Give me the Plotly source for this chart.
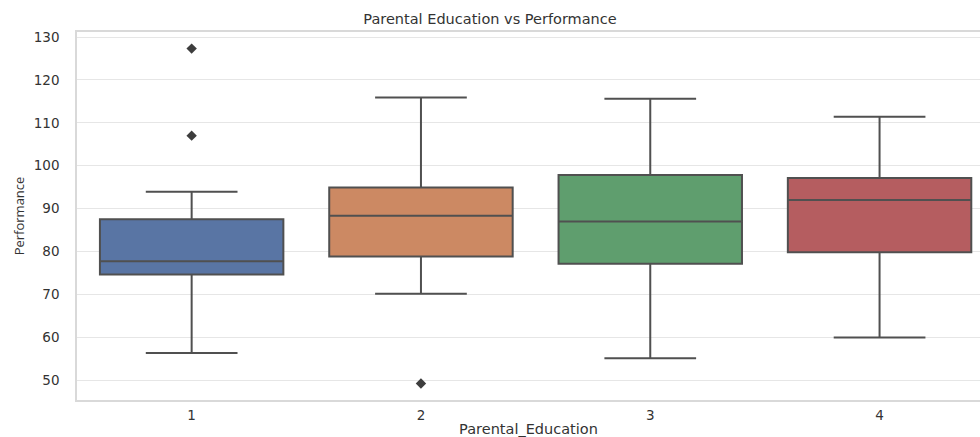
import plotly.graph_objects as go

categories = [1, 2, 3, 4]
tick_labels = ["1", "2", "3", "4"]
q1_vals = [74.6, 78.8, 77.1, 79.8]
median_vals = [77.7, 88.3, 87.0, 92.0]
q3_vals = [87.5, 94.9, 97.8, 97.1]
lower_whisker = [56.3, 70.1, 55.1, 59.9]
upper_whisker = [93.9, 115.9, 115.6, 111.4]
outlier_x = [1, 1, 2]
outlier_y = [127.3, 107.0, 49.2]
colors = ["#5975a4", "#cc8963", "#5f9e6e", "#b55d60"]

LINE = "#505050"
fig = go.Figure()
for i, c in enumerate(categories):
    fig.add_trace(go.Box(
        x=[c], q1=[q1_vals[i]], median=[median_vals[i]], q3=[q3_vals[i]],
        lowerfence=[lower_whisker[i]], upperfence=[upper_whisker[i]],
        width=0.8, whiskerwidth=0.5, fillcolor=colors[i],
        line=dict(color=LINE, width=2), boxpoints=False, showlegend=False,
    ))
fig.add_trace(go.Scatter(
    x=outlier_x, y=outlier_y, mode="markers",
    marker=dict(symbol="diamond", size=8, color="#3d3d3d"), showlegend=False,
))

font_main = "DejaVu Sans, sans-serif"
fig.update_layout(
    width=980, height=437,
    margin=dict(l=77, r=0, t=32, b=37, autoexpand=False),
    paper_bgcolor="white", plot_bgcolor="white",
    title=dict(text="Parental Education vs Performance", x=0.5, xanchor="center",
               y=1 - 19 / 437, yanchor="middle",
               font=dict(family=font_main, size=14.5, color="#333333")),
    xaxis=dict(
        range=[0.5, 4.438], tickmode="array", tickvals=categories, ticktext=tick_labels,
        showgrid=False, zeroline=False, showline=True, linecolor="#d9d9d9", linewidth=1.5,
        mirror=True, ticks="", ticklabelstandoff=2, automargin=False,
        tickfont=dict(family=font_main, size=13.5, color="#333333"),
        title=dict(text="Parental_Education", standoff=6,
                   font=dict(family=font_main, size=14.5, color="#333333")),
    ),
    yaxis=dict(
        range=[45.34, 131.17], tickmode="array", tickvals=[50, 60, 70, 80, 90, 100, 110, 120, 130],
        showgrid=True, gridcolor="#e6e6e6", gridwidth=1.2, zeroline=False, automargin=False,
        showline=True, linecolor="#d9d9d9", linewidth=1.5, ticks="", ticklabelstandoff=13,
        tickfont=dict(family=font_main, size=13.5, color="#333333"),
        title=dict(text="Performance", standoff=6,
                   font=dict(family="Liberation Sans Narrow, Open Sans, sans-serif", size=13, color="#333333")),
    ),
)
fig.write_html("out.html", config={"displayModeBar": False},
               post_script="document.body.style.margin='0';document.body.style.overflow='hidden';")
